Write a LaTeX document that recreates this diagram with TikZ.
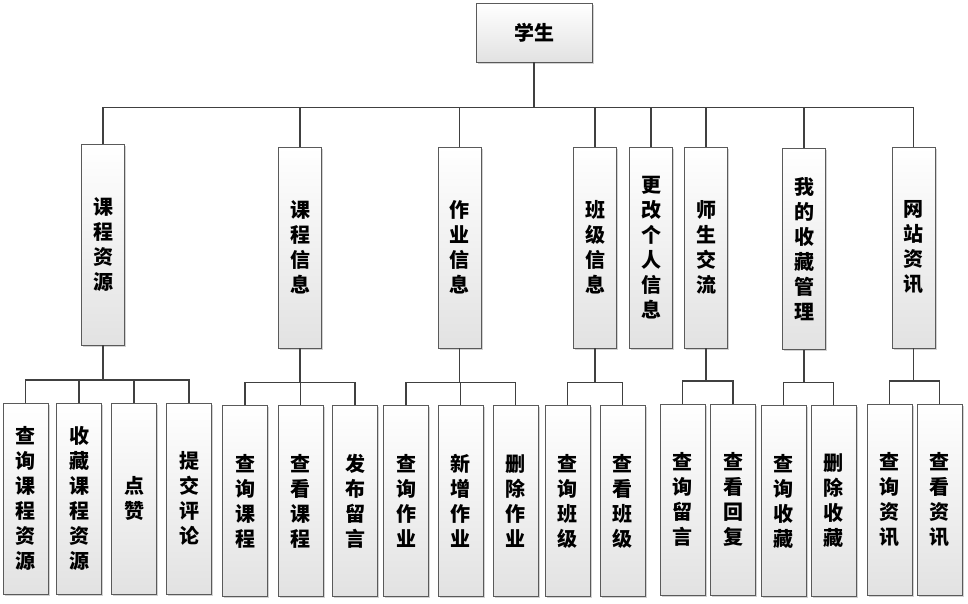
\documentclass[tikz,border=0pt]{standalone}
\usepackage{fontspec}
\newfontfamily\cjk{Noto Sans CJK SC}
\usetikzlibrary{shadows}
\definecolor{edge}{HTML}{5A5A5A}
\definecolor{wire}{HTML}{404040}
\definecolor{shade}{HTML}{E2E2E2}

\begin{document}
\begin{tikzpicture}[x=1pt,y=-1pt,
  every node/.style={font=\cjk\bfseries\fontsize{20}{25}\selectfont,align=center,inner sep=0pt},
  box/.style={draw=edge,line width=0.9pt,top color=white,bottom color=shade,
    drop shadow={shadow xshift=1.5pt,shadow yshift=-1.5pt,fill=black!35,opacity=.5}},
  rootbox/.style={box,minimum width=116pt,minimum height=59pt},
  mid/.style={box,minimum width=43pt,minimum height=201pt},
  leaf/.style={box,minimum width=45pt,minimum height=191pt},
  link/.style={draw=wire,line width=1.2pt}
]
\useasboundingbox (0,0) rectangle (968,603);

% top
\node[rootbox] (root) at (534,32.5) {学生};

% second level
\node[mid] (res) at (103,244.5) {课\\程\\资\\源};
\node[mid] (course) at (300,247.5) {课\\程\\信\\息};
\node[mid] (hw) at (459.5,247.5) {作\\业\\信\\息};
\node[mid] (cls) at (595,247.5) {班\\级\\信\\息};
\node[mid] (profile) at (651,247.5) {更\\改\\个\\人\\信\\息};
\node[mid] (chat) at (706,247.5) {师\\生\\交\\流};
\node[mid] (fav) at (804,249) {我\\的\\收\\藏\\管\\理};
\node[mid] (news) at (913.5,247.5) {网\\站\\资\\讯};

% third level
\node[leaf] (res1) at (25.5,498.5) {查\\询\\课\\程\\资\\源};
\node[leaf] (res2) at (79,498.5) {收\\藏\\课\\程\\资\\源};
\node[leaf] (res3) at (134,498.5) {点\\赞};
\node[leaf] (res4) at (189,498.5) {提\\交\\评\\论};
\node[leaf] (course1) at (245,501) {查\\询\\课\\程};
\node[leaf] (course2) at (300.5,501) {查\\看\\课\\程};
\node[leaf] (course3) at (355,501) {发\\布\\留\\言};
\node[leaf] (hw1) at (406,501) {查\\询\\作\\业};
\node[leaf] (hw2) at (460.5,501) {新\\增\\作\\业};
\node[leaf] (hw3) at (515.5,501) {删\\除\\作\\业};
\node[leaf] (cls1) at (567.5,501) {查\\询\\班\\级};
\node[leaf] (cls2) at (622.5,501) {查\\看\\班\\级};
\node[leaf] (chat1) at (682.5,499.5) {查\\询\\留\\言};
\node[leaf] (chat2) at (733,499.5) {查\\看\\回\\复};
\node[leaf] (fav1) at (783.5,501) {查\\询\\收\\藏};
\node[leaf] (fav2) at (833.5,501) {删\\除\\收\\藏};
\node[leaf] (news1) at (889.5,499.5) {查\\询\\资\\讯};
\node[leaf] (news2) at (939.5,499.5) {查\\看\\资\\讯};

% connectors
\foreach \m in {res,course,hw,cls,profile,chat,fav,news}
  \draw[link] (root.south) -- ++(0,45) -| (\m.north);
\foreach \p/\k in {res/res1,res/res2,res/res3,res/res4,
    course/course1,course/course2,course/course3,
    hw/hw1,hw/hw2,hw/hw3,cls/cls1,cls/cls2,
    chat/chat1,chat/chat2,fav/fav1,fav/fav2,news/news1,news/news2}
  \draw[link] (\k.north) -- ++(0,-22.5) -| (\p.south);
\end{tikzpicture}
\end{document}
